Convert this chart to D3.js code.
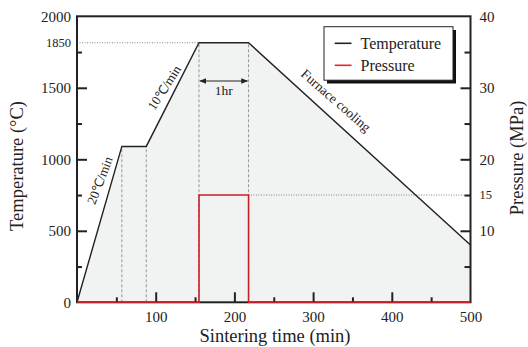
<!DOCTYPE html>
<html><head><meta charset="utf-8">
<script src="https://cdn.jsdelivr.net/npm/d3@7"></script>
<style>body{margin:0;background:#fff}text{font-family:"Liberation Serif","Times New Roman",serif;fill:#222}</style>
</head><body><svg id="c" width="528" height="347"></svg>
<script>
// Temperature profile (time in min, temperature in °C)
const timeMin = [0, 57, 88, 155, 218, 500];
const tempC   = [0, 1090, 1090, 1815, 1815, 400];
// Pressure profile
const pressTime = [0, 155, 155, 218, 218, 500];
const pressMPa  = [0, 0, 15, 15, 0, 0];
// Tick values / labels
const xMajor = [100, 200, 300, 400, 500];
const xMinor = [50, 150, 250, 350, 450];
const yMajor = [0, 500, 1000, 1500, 2000];
const yMinor = [250, 750, 1250, 1750];
const pMajor = [10, 20, 30, 40];
const pMinor = [5, 15, 25, 35];
const holdLabel = "1850";
const pressLabel = "15";
const holdTime = [155, 218];
const dashedTimes = [57, 88, 155, 218];
const legendItems = ["Temperature", "Pressure"];

const svg = d3.select("#c");
const L = 77, R = 470.5, T = 16.3, B = 302.3;
const x = d3.scaleLinear([0, 500], [L, R]);
const yT = d3.scaleLinear([0, 2000], [B, T]);
const yP = d3.scaleLinear([0, 40], [B, T]);

const pts = timeMin.map((t, i) => [t, tempC[i]]);
// fill
svg.append("path")
  .datum(pts)
  .attr("d", d3.area().x(d => x(d[0])).y0(B).y1(d => yT(d[1])))
  .attr("fill", "#f1f2f2");

// dashed verticals
const tempAt = t => { for (let i = 1; i < timeMin.length; i++) { if (t <= timeMin[i]) { const f = (t - timeMin[i-1]) / (timeMin[i] - timeMin[i-1]); return tempC[i-1] + f * (tempC[i] - tempC[i-1]); } } return 0; };
svg.selectAll(".dv").data(dashedTimes).join("line")
  .attr("x1", d => x(d)).attr("x2", d => x(d))
  .attr("y1", B).attr("y2", d => yT(tempAt(d)))
  .attr("stroke", "#8a8a8a").attr("stroke-width", 0.9).attr("stroke-dasharray", "3,2");

// dotted horizontals
svg.append("line").attr("x1", L).attr("x2", x(holdTime[0])).attr("y1", yT(tempC[3])).attr("y2", yT(tempC[3]))
  .attr("stroke", "#777").attr("stroke-width", 0.9).attr("stroke-dasharray", "1,1.5");
svg.append("line").attr("x1", x(holdTime[1])).attr("x2", R).attr("y1", yP(15)).attr("y2", yP(15))
  .attr("stroke", "#777").attr("stroke-width", 0.9).attr("stroke-dasharray", "1,1.5");

// temperature line
svg.append("path").datum(pts)
  .attr("d", d3.line().x(d => x(d[0])).y(d => yT(d[1])))
  .attr("fill", "none").attr("stroke", "#222").attr("stroke-width", 1.4);

// axes
function styleAxis(g) { g.select(".domain").remove(); g.selectAll("line").attr("stroke", "#222").attr("stroke-width", 2); g.selectAll("text").attr("font-family", "Liberation Serif").attr("fill", "#222"); }
svg.append("g").attr("transform", `translate(${L},0)`)
  .call(d3.axisLeft(yT).tickValues(yMajor).tickSize(-10).tickPadding(6).tickFormat(d3.format("d")))
  .call(g => g.selectAll("text").attr("font-size", 15)).call(styleAxis)
  .call(g => g.selectAll(".tick").filter(d => d === 0 || d === 2000).select("line").remove());
svg.append("g").attr("transform", `translate(${L},0)`)
  .call(d3.axisLeft(yT).tickValues(yMinor).tickSize(-5).tickFormat("")).call(styleAxis);
svg.append("text").attr("x", L - 6).attr("y", yT(tempC[3])).attr("dy", "0.35em")
  .attr("text-anchor", "end").attr("font-size", 12.5).text(holdLabel);

svg.append("g").attr("transform", `translate(0,${B})`)
  .call(d3.axisBottom(x).tickValues(xMajor).tickSize(-10).tickPadding(9))
  .call(g => g.selectAll("text").attr("font-size", 15)).call(styleAxis)
  .call(g => g.selectAll(".tick").filter(d => d === 500).select("line").remove());
svg.append("g").attr("transform", `translate(0,${B})`)
  .call(d3.axisBottom(x).tickValues(xMinor).tickSize(-5).tickFormat("")).call(styleAxis);

svg.append("g").attr("transform", `translate(${R},0)`)
  .call(d3.axisRight(yP).tickValues(pMajor).tickSize(-10).tickPadding(9))
  .call(g => g.selectAll("text").attr("font-size", 15)).call(styleAxis)
  .call(g => g.selectAll(".tick").filter(d => d === 40).select("line").remove());
svg.append("g").attr("transform", `translate(${R},0)`)
  .call(d3.axisRight(yP).tickValues(pMinor).tickSize(-6).tickFormat("")).call(styleAxis);
svg.append("text").attr("x", R + 9).attr("y", yP(15)).attr("dy", "0.35em")
  .attr("font-size", 12.5).text(pressLabel);

// frame
svg.append("rect").attr("x", L).attr("y", T).attr("width", R - L).attr("height", B - T)
  .attr("fill", "none").attr("stroke", "#222").attr("stroke-width", 2);

// pressure line
svg.append("path").datum(pressTime.map((t, i) => [t, pressMPa[i]]))
  .attr("d", d3.line().x(d => x(d[0])).y(d => yP(d[1])))
  .attr("fill", "none").attr("stroke", "#c8202a").attr("stroke-width", 1.6);

// 1hr arrow
const defs = svg.append("defs");
defs.append("marker").attr("id", "ah").attr("viewBox", "0 0 10 10").attr("refX", 9).attr("refY", 5)
  .attr("markerWidth", 7).attr("markerHeight", 7).attr("orient", "auto-start-reverse")
  .append("path").attr("d", "M0,1 L10,5 L0,9 Z").attr("fill", "#222");
svg.append("line").attr("x1", x(holdTime[0]) + 1).attr("x2", x(holdTime[1]) - 1).attr("y1", 81).attr("y2", 81)
  .attr("stroke", "#222").attr("stroke-width", 1)
  .attr("marker-start", "url(#ah)").attr("marker-end", "url(#ah)");
svg.append("text").attr("x", (x(holdTime[0]) + x(holdTime[1])) / 2).attr("y", 95)
  .attr("text-anchor", "middle").attr("font-size", 13.5).text("1hr");

// annotations
svg.append("text").attr("transform", "translate(104,182) rotate(-69)").attr("text-anchor", "middle")
  .attr("font-size", 13).text("20\u2103/min");
svg.append("text").attr("transform", "translate(168,90) rotate(-57)").attr("text-anchor", "middle")
  .attr("font-size", 13).text("10\u2103/min");
svg.append("text").attr("transform", "translate(333,104) rotate(41)").attr("text-anchor", "middle")
  .attr("font-size", 13.5).text("Furnace cooling");

// legend
const lg = svg.append("g");
lg.append("rect").attr("x", 327).attr("y", 30).attr("width", 129).attr("height", 53.5).attr("fill", "#111");
lg.append("rect").attr("x", 324).attr("y", 26.7).attr("width", 129).attr("height", 53.5).attr("fill", "#fff")
  .attr("stroke", "#222").attr("stroke-width", 1);
const lgColors = ["#222", "#e8262a"];
legendItems.forEach((name, i) => {
  const yy = 43.3 + i * 22;
  lg.append("line").attr("x1", 334.7).attr("x2", 351.5).attr("y1", yy).attr("y2", yy)
    .attr("stroke", lgColors[i]).attr("stroke-width", 1.6);
  lg.append("text").attr("x", 360.5).attr("y", yy).attr("dy", "0.35em").attr("font-size", 16).text(name);
});

// axis titles
svg.append("text").attr("transform", "translate(23,166) rotate(-90)").attr("text-anchor", "middle")
  .attr("font-size", 18.5).text("Temperature (\u00B0C)");
svg.append("text").attr("transform", "translate(523,158) rotate(-90)").attr("text-anchor", "middle")
  .attr("font-size", 18.5).text("Pressure (MPa)");
svg.append("text").attr("x", 275).attr("y", 342).attr("text-anchor", "middle")
  .attr("font-size", 18.5).text("Sintering time (min)");
</script></body></html>
